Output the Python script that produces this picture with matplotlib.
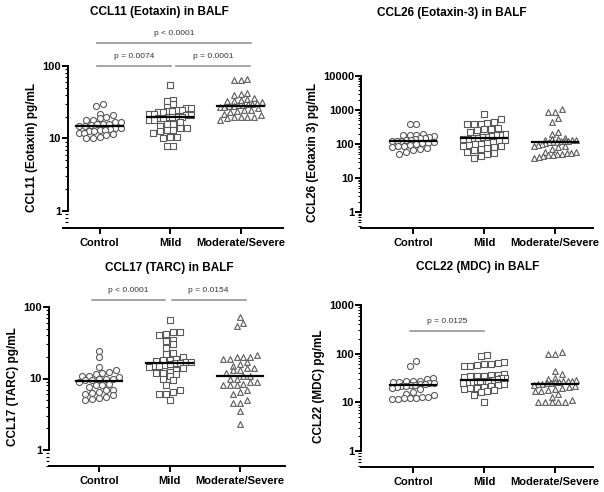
import numpy as np
import matplotlib
matplotlib.use("Agg")
import matplotlib.pyplot as plt
from matplotlib.ticker import LogLocator, FixedLocator, NullFormatter

plt.rcParams['font.family'] = ['Liberation Sans', 'DejaVu Sans']

groups = ["Control", "Mild", "Moderate/Severe"]

# CCL11 (Eotaxin), pg/mL
ccl11_control = [30, 28, 22, 21, 20, 19, 18, 18, 17, 17, 16, 16, 16, 15.5, 15,
                 15, 14, 14, 13.5, 13, 13, 12.5, 12.5, 12, 12, 11.5, 11, 10.5, 10, 10]
ccl11_mild = [55, 34, 33, 30, 27, 26, 26, 25, 25, 24, 24, 23, 23, 22, 22, 21, 21,
              20, 20, 20, 20, 19, 19, 18, 18, 17, 16, 16, 15, 14, 14, 13, 13, 12.5,
              12, 10.5, 10.5, 10, 8, 8]
ccl11_modsev = [67, 64, 64, 42, 41, 40, 36, 35, 34, 33, 33, 32, 31, 30, 30, 29, 29,
                28, 28, 27, 27, 26, 25, 25, 24, 23, 22, 21, 20, 20, 20, 20, 19, 18]

# CCL26 (Eotaxin-3), pg/mL
ccl26_control = [400, 400, 200, 190, 190, 180, 170, 160, 150, 150, 140, 130, 130,
                 125, 120, 120, 115, 110, 110, 100, 95, 90, 85, 80, 75, 70, 65, 60, 52]
ccl26_mild = [750, 550, 450, 420, 400, 400, 380, 300, 280, 270, 250, 220, 200, 190,
              180, 170, 165, 160, 155, 150, 145, 140, 130, 120, 115, 110, 100, 100,
              95, 90, 85, 80, 75, 70, 65, 60, 55, 50, 45, 38]
ccl26_modsev = [1100, 900, 850, 600, 450, 220, 200, 150, 140, 140, 135, 130, 130,
                125, 120, 120, 115, 115, 112, 105, 100, 95, 90, 85, 80, 70, 60, 58,
                55, 55, 52, 50, 48, 46, 45, 42, 40]

# CCL17 (TARC), pg/mL
ccl17_control = [24, 20, 14.5, 13, 12.5, 12, 11.5, 11, 11, 10.5, 10, 10, 10, 9.5,
                 9.5, 9, 8.5, 8, 8, 7.5, 7, 6.8, 6.5, 6.2, 6, 5.8, 5.6, 5.4, 5.2, 5.0]
ccl17_mild = [65, 45, 44, 42, 40, 35, 33, 30, 27, 23, 22, 20, 19, 18, 18, 17.5, 17,
              17, 16.5, 16.5, 16, 15.5, 15, 15, 14.5, 14, 13, 12.5, 12, 12, 11.5,
              11, 10, 9.5, 8, 7, 6.5, 6, 6, 5]
ccl17_modsev = [72, 60, 55, 21, 20, 20, 20, 19, 19, 17, 16, 15, 14, 14, 13, 13, 12,
                11, 11, 10, 10, 9, 9, 8.5, 8, 8, 8, 7, 6.5, 6, 5, 4.5, 4.5, 3.5, 2.3]

# CCL22 (MDC), pg/mL
ccl22_control = [70, 55, 32, 30, 28, 28, 27, 26, 26, 25, 25, 24, 24, 23, 23, 22, 22,
                 21, 20, 19, 16, 15, 14, 13, 13, 12.5, 12, 12, 11.5, 11.5]
ccl22_mild = [92, 88, 68, 65, 62, 60, 58, 55, 55, 38, 37, 36, 35, 34, 34, 33, 32, 31,
              30, 29, 28, 28, 27, 27, 26, 25, 25, 24, 23, 22, 21, 20, 20, 19, 18, 17,
              16, 14, 10]
ccl22_modsev = [110, 100, 98, 45, 38, 32, 30, 29, 28, 28, 27, 26, 26, 25, 25, 24, 24,
                23, 22, 21, 20, 19, 18, 17, 17, 15, 13, 11, 10, 10, 10, 10, 10]

W, H = 604, 492
fig = plt.figure(figsize=(W / 100, H / 100), dpi=100)

MARKERS = ["o", "s", "^"]
EDGE = "#5a5a5a"
STEP = 6.8      # horizontal spacing of neighbours in a row, px
ROW_H = 5.5     # points closer than this (px, vertically) share a row
MAX_W = 42.0    # widest row, centre to centre, px


def row_x(ax, xc, vals):
    # Prism-like scatter: close values are laid out side by side in rows
    pts = ax.transData.transform(np.column_stack([np.full(len(vals), xc), vals]))
    x0 = pts[0, 0]
    ys = pts[:, 1]
    xs = np.zeros(len(vals))
    order = list(np.argsort(ys))
    while order:
        start = ys[order[0]]
        row = [i for i in order if ys[i] - start < ROW_H]
        order = [i for i in order if i not in row]
        n = len(row)
        step = STEP if n < 2 else min(STEP, MAX_W / (n - 1))
        offs = (np.arange(n) - (n - 1) / 2) * step
        for i, o in zip(row, offs):
            xs[i] = x0 + o
    back = ax.transData.inverted().transform(np.column_stack([xs, ys]))
    return back[:, 0]


def panel(title, ylabel, data, lay, brackets):
    yspine, xl, xr, xline_y, cats, top_px, top_v, bot_px, bot_v, title_xy = lay
    c0 = cats[0]
    dx = (cats[2] - cats[0]) / 2
    left_px = min(yspine, xl)
    ax = fig.add_axes([left_px / W, 1 - xline_y / H, (xr - left_px) / W,
                       (xline_y - top_px) / H])
    dec = (bot_px - top_px) / (np.log10(top_v) - np.log10(bot_v))
    ymin = 10 ** (np.log10(bot_v) - (xline_y - bot_px) / dec)
    ax.set_yscale("log")
    ax.set_ylim(ymin, top_v)
    ax.set_xlim((left_px - c0) / dx, (xr - c0) / dx)

    for k, vals in enumerate(data):
        xs = row_x(ax, k, vals)
        ax.scatter(xs, vals, marker=MARKERS[k], s=17 if k else 19,
                   facecolors="white", edgecolors=EDGE, linewidths=0.8,
                   zorder=3, clip_on=False)
        med = np.median(vals)
        ax.plot([k - 0.33, k + 0.33], [med, med], color="black", lw=1.6, zorder=4)

    for s in ("top", "right"):
        ax.spines[s].set_visible(False)
    ax.spines["left"].set_position(("data", (yspine - c0) / dx))
    ax.spines["left"].set_bounds(bot_v, top_v)
    ax.spines["left"].set_linewidth(1.4)
    ax.spines["bottom"].set_linewidth(1.4)

    majors = [10 ** p for p in range(int(round(np.log10(bot_v))),
                                      int(round(np.log10(top_v))) + 1)]
    ax.yaxis.set_major_locator(FixedLocator(majors))
    ax.set_yticklabels([f"{int(m)}" for m in majors])
    ax.yaxis.set_minor_locator(LogLocator(base=10, subs=np.arange(2, 10)))
    ax.yaxis.set_minor_formatter(NullFormatter())
    ax.tick_params(axis="y", which="major", length=4, width=1.4, labelsize=8, pad=1)
    ax.tick_params(axis="y", which="minor", length=2.2, width=0.8)
    ax.set_xticks(range(3))
    ax.set_xticklabels(groups)
    ax.tick_params(axis="x", length=4, width=1.4, labelsize=8, pad=3)
    for lab in ax.get_xticklabels() + ax.get_yticklabels():
        lab.set_fontweight("bold")
    ax.set_ylabel(ylabel, fontsize=8.5, fontweight="bold", labelpad=3)
    ax.patch.set_alpha(0)

    for x0, x1, yv, txt in brackets:
        ax.plot([x0, x1], [yv, yv], color="#8c8c8c", lw=1.1, clip_on=False)
        ax.annotate(txt, ((x0 + x1) / 2, yv), xytext=(0, 4),
                    textcoords="offset points", ha="center", va="bottom",
                    fontsize=6, color="#333333", annotation_clip=False)

    fig.text(title_xy[0] / W, 1 - title_xy[1] / H, title, ha="center",
             va="center", fontsize=8.5, fontweight="bold")
    return ax


panel("CCL11 (Eotaxin) in BALF", "CCL11 (Eotaxin) pg/mL",
      [ccl11_control, ccl11_mild, ccl11_modsev],
      (68, 63, 283, 228, (99.5, 170, 240.5), 66, 100, 211, 1, (159, 12)),
      [(-0.04, 1.01, 100, "p = 0.0074"), (1.09, 2.13, 100, "p = 0.0001"),
       (-0.04, 2.15, 210, "p < 0.0001")])

panel("CCL26 (Eotaxin-3) in BALF", "CCL26 (Eotaxin 3) pg/mL",
      [ccl26_control, ccl26_mild, ccl26_modsev],
      (361, 377, 593, 228, (413, 484, 555), 76, 10000, 212, 1, (452, 13)),
      [])

panel("CCL17 (TARC) in BALF", "CCL17 (TARC) pg/mL",
      [ccl17_control, ccl17_mild, ccl17_modsev],
      (49, 63, 285, 466, (99, 170, 240), 307, 100, 450, 1, (169, 268)),
      [(-0.1, 0.93, 127, "p < 0.0001"), (1.03, 2.08, 127, "p = 0.0154")])

panel("CCL22 (MDC) in BALF", "CCL22 (MDC) pg/mL",
      [ccl22_control, ccl22_mild, ccl22_modsev],
      (361, 377, 593, 467, (413, 484, 555), 305, 1000, 451, 1, (478, 267)),
      [(-0.04, 1.0, 292, "p = 0.0125")])

fig.savefig("out.png", dpi=100)
